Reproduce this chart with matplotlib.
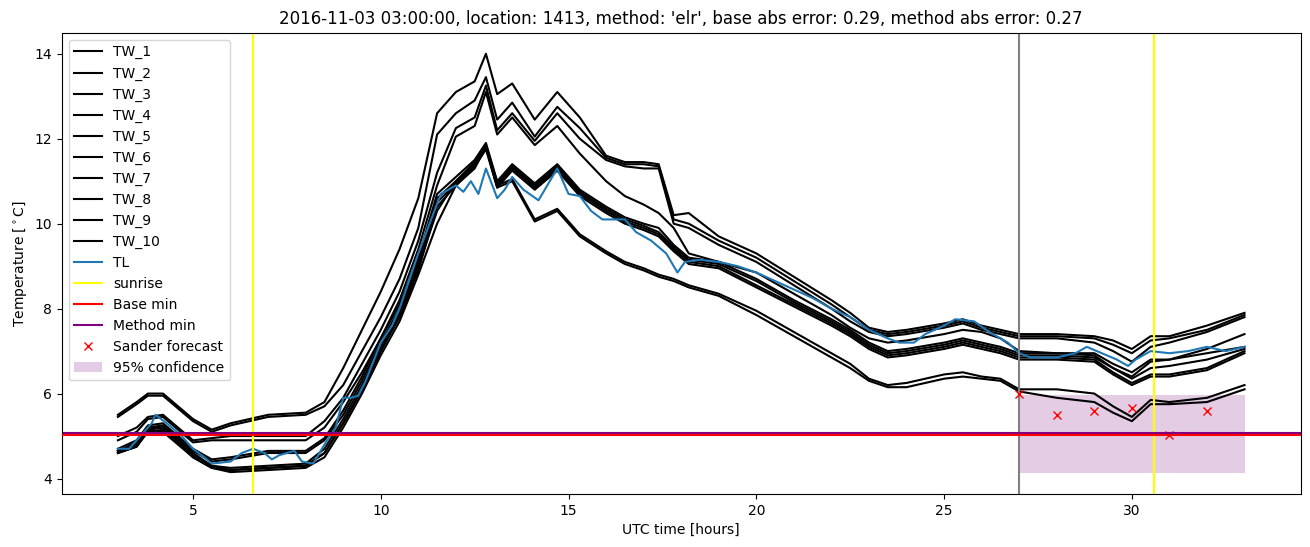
import matplotlib
matplotlib.use("Agg")
import matplotlib.pyplot as plt


TITLE = "2016-11-03 03:00:00, location: 1413, method: 'elr', base abs error: 0.29, method abs error: 0.27"

# hours of the TW series
hours = [3, 3.5, 3.8, 4.2, 4.6, 5, 5.5, 6, 7, 8, 8.5, 9, 9.5, 10, 10.5, 11, 11.5, 12, 12.5, 12.8,
         13.1, 13.5, 14.1, 14.7, 15.3, 16, 16.5, 17, 17.4, 17.8, 18.2, 19, 20, 21, 22, 22.5, 23, 23.5,
         24, 25, 25.5, 26, 26.5, 27, 28, 29, 29.5, 30, 30.5, 31, 32, 33]

tw_1 = [5.5, 5.8, 6.0, 6.0, 5.7, 5.4, 5.15, 5.3, 5.5, 5.55, 5.8, 6.6, 7.5, 8.4, 9.4, 10.6, 12.6, 13.1, 13.35, 14.0,
        13.05, 13.3, 12.45, 13.1, 12.5, 11.6, 11.45, 11.45, 11.4, 10.2, 10.25, 9.7, 9.3, 8.75, 8.2, 7.9, 7.55, 7.45,
        7.5, 7.65, 7.75, 7.6, 7.5, 7.4, 7.4, 7.35, 7.25, 7.05, 7.35, 7.35, 7.6, 7.9]
tw_2 = [5.45, 5.75, 5.95, 5.95, 5.65, 5.35, 5.1, 5.25, 5.45, 5.5, 5.7, 6.2, 7.0, 7.8, 8.7, 9.9, 12.1, 12.6, 12.9, 13.45,
        12.45, 12.85, 12.05, 12.75, 12.25, 11.55, 11.4, 11.4, 11.35, 10.1, 10.0, 9.6, 9.2, 8.65, 8.1, 7.8, 7.5, 7.4,
        7.45, 7.6, 7.7, 7.55, 7.45, 7.35, 7.35, 7.3, 7.15, 6.95, 7.25, 7.3, 7.5, 7.85]
tw_3 = [5.0, 5.2, 5.45, 5.5, 5.2, 4.9, 4.95, 5.0, 5.0, 5.0, 5.35, 5.9, 6.7, 7.5, 8.4, 9.6, 11.2, 12.25, 12.5, 13.25,
        12.2, 12.6, 11.95, 12.6, 12.0, 11.5, 11.35, 11.3, 11.3, 10.0, 9.9, 9.5, 9.1, 8.55, 8.0, 7.7, 7.45, 7.35,
        7.4, 7.55, 7.65, 7.5, 7.4, 7.3, 7.3, 7.2, 7.0, 6.75, 7.1, 7.2, 7.45, 7.8]
tw_4 = [4.9, 5.1, 5.4, 5.45, 5.15, 4.85, 4.9, 4.9, 4.9, 4.9, 5.2, 5.8, 6.5, 7.3, 8.2, 9.4, 10.9, 12.05, 12.3, 13.1,
        12.1, 12.5, 11.85, 12.3, 11.65, 11.0, 10.65, 10.45, 10.25, 9.9, 9.3, 9.1, 8.85, 8.35, 7.85, 7.55, 7.3, 7.2,
        7.25, 7.4, 7.5, 7.45, 7.3, 7.0, 6.95, 6.9, 6.6, 6.4, 6.75, 6.8, 7.05, 7.4]
tw_5 = [4.7, 4.9, 5.25, 5.3, 5.0, 4.7, 4.45, 4.5, 4.65, 4.65, 4.95, 5.6, 6.4, 7.3, 8.1, 9.2, 10.7, 11.1, 11.5, 11.9,
        11.0, 11.4, 10.95, 11.4, 10.8, 10.4, 10.15, 10.0, 9.9, 9.5, 9.2, 9.1, 8.7, 8.2, 7.75, 7.5, 7.2, 7.0,
        7.05, 7.2, 7.3, 7.2, 7.1, 6.95, 6.95, 6.95, 6.7, 6.5, 6.8, 6.8, 6.95, 7.1]
tw_6 = [4.65, 4.85, 5.2, 5.25, 4.95, 4.65, 4.4, 4.45, 4.6, 4.6, 4.9, 5.5, 6.3, 7.2, 8.0, 9.1, 10.6, 11.0, 11.45, 11.85,
        10.95, 11.35, 10.9, 11.35, 10.75, 10.35, 10.1, 9.95, 9.8, 9.45, 9.15, 9.05, 8.65, 8.15, 7.7, 7.45, 7.15, 6.95,
        7.0, 7.15, 7.25, 7.15, 7.05, 6.9, 6.9, 6.85, 6.6, 6.35, 6.6, 6.65, 6.8, 7.05]
tw_7 = [4.65, 4.8, 5.15, 5.2, 4.9, 4.55, 4.3, 4.25, 4.3, 4.35, 4.7, 5.4, 6.2, 7.1, 7.9, 9.0, 10.5, 10.95, 11.4, 11.8,
        10.9, 11.3, 10.85, 11.3, 10.7, 10.3, 10.05, 9.9, 9.75, 9.4, 9.1, 9.0, 8.55, 8.1, 7.65, 7.4, 7.1, 6.9,
        6.95, 7.1, 7.2, 7.1, 7.0, 6.85, 6.85, 6.8, 6.5, 6.25, 6.45, 6.45, 6.6, 7.0]
tw_8 = [4.6, 4.75, 5.1, 5.15, 4.85, 4.5, 4.25, 4.2, 4.25, 4.3, 4.6, 5.3, 6.1, 7.0, 7.8, 8.9, 10.4, 10.9, 11.35, 11.75,
        10.85, 11.25, 10.8, 11.25, 10.65, 10.25, 10.0, 9.85, 9.7, 9.35, 9.05, 8.95, 8.5, 8.05, 7.6, 7.35, 7.05, 6.85,
        6.9, 7.05, 7.15, 7.05, 6.95, 6.8, 6.8, 6.75, 6.45, 6.2, 6.4, 6.4, 6.55, 6.95]
tw_9 = [4.65, 4.8, 5.2, 5.2, 4.9, 4.6, 4.3, 4.2, 4.25, 4.3, 4.6, 5.3, 6.1, 7.0, 7.9, 9.0, 10.3, 11.0, 11.4, 11.85,
        10.9, 11.05, 10.1, 10.35, 9.75, 9.35, 9.1, 8.95, 8.8, 8.7, 8.55, 8.35, 7.95, 7.45, 6.95, 6.7, 6.35, 6.2,
        6.25, 6.45, 6.5, 6.4, 6.35, 6.1, 6.1, 6.0, 5.7, 5.45, 5.85, 5.8, 5.9, 6.2]
tw_10 = [4.6, 4.75, 5.15, 5.1, 4.8, 4.5, 4.25, 4.15, 4.2, 4.25, 4.5, 5.2, 6.0, 6.9, 7.7, 8.8, 10.0, 10.9, 11.3, 11.8,
         10.85, 11.0, 10.05, 10.3, 9.7, 9.3, 9.05, 8.9, 8.75, 8.65, 8.5, 8.3, 7.85, 7.35, 6.85, 6.6, 6.3, 6.15,
         6.15, 6.35, 6.4, 6.35, 6.3, 6.05, 5.9, 5.8, 5.55, 5.35, 5.75, 5.75, 5.8, 6.1]
tw_series = [tw_1, tw_2, tw_3, tw_4, tw_5, tw_6, tw_7, tw_8, tw_9, tw_10]

# TL (own hours)
tl_hours = [3, 3.3, 3.6, 3.9, 4.0, 4.3, 4.7, 5.0, 5.3, 5.5, 6.0, 6.3, 6.6, 6.9, 7.1, 7.3, 7.5, 7.7, 7.9, 8.2,
            8.5, 8.8, 9.0, 9.2, 9.4, 9.6, 10.0, 10.3, 10.5, 11.0, 11.3, 11.6, 12.0, 12.2, 12.4, 12.6, 12.8, 13.1,
            13.3, 13.5, 13.8, 14.2, 14.5, 14.7, 15.0, 15.3, 15.6, 15.9, 16.5, 16.8, 17.2, 17.6, 17.9, 18.1, 18.5,
            19.0, 19.5, 20.0, 20.5, 21.0, 21.5, 22.0, 22.5, 23.0, 23.5, 23.8, 24.2, 24.5, 25.0, 25.3, 25.8, 26.2,
            26.7, 27.0, 27.3, 28.0, 28.5, 28.8, 29.2, 29.6, 29.9, 30.1, 30.5, 31.0, 31.5, 32.0, 32.5, 33.0]
tl = [4.7, 4.7, 5.0, 5.3, 5.5, 5.3, 5.0, 4.7, 4.5, 4.35, 4.4, 4.6, 4.7, 4.6, 4.45, 4.55, 4.6, 4.65, 4.4, 4.35,
      4.8, 5.2, 5.9, 5.9, 5.95, 6.3, 7.2, 7.6, 8.0, 9.3, 10.0, 10.7, 10.9, 10.75, 11.0, 10.7, 11.3, 10.6,
      10.8, 11.1, 10.8, 10.55, 11.0, 11.3, 10.7, 10.65, 10.3, 10.1, 10.1, 9.8, 9.6, 9.3, 8.85, 9.1, 9.15,
      9.1, 9.0, 8.85, 8.65, 8.45, 8.25, 8.0, 7.8, 7.5, 7.3, 7.2, 7.2, 7.4, 7.6, 7.75, 7.7, 7.45,
      7.2, 6.95, 6.85, 6.85, 6.95, 7.1, 6.95, 6.8, 6.65, 6.8, 7.0, 6.95, 7.0, 7.1, 7.0, 7.1]

sunrise = [6.6, 30.6]
base_min = 5.02
method_min = 5.06
forecast_start = 27

sander_hours = [27, 28, 29, 30, 31, 32]
sander_temp = [6.0, 5.5, 5.6, 5.65, 5.02, 5.6]

conf_hours = [27, 33]
conf_low = [4.13, 4.13]
conf_high = [5.97, 5.97]


fig = plt.figure(figsize=(13.1, 5.47), dpi=100)
ax = fig.add_axes([0.047, 0.097, 0.946, 0.843])

for i, tw in enumerate(tw_series):
    ax.plot(hours, tw, color="black", label="TW_" + str(i + 1))
ax.plot(tl_hours, tl, label="TL")

ax.axvline(sunrise[0], color="yellow", label="sunrise")
ax.axvline(sunrise[1], color="yellow")
# red on top, purple just peeks out above it
ax.axhline(base_min, color="red", label="Base min", zorder=2.6)
ax.axhline(method_min, color="purple", label="Method min", zorder=2.5)
ax.axvline(forecast_start, color="gray")
ax.plot(sander_hours, sander_temp, "x", color="red", label="Sander forecast")
ax.fill_between(conf_hours, conf_low, conf_high, color="purple", alpha=0.2, linewidth=0,
                label="95% confidence")

ax.set_title(TITLE)
ax.set_xlabel("UTC time [hours]")
ax.set_ylabel("Temperature [$^\\circ$C]")
ax.legend(loc="upper left")

fig.savefig("out.png")
